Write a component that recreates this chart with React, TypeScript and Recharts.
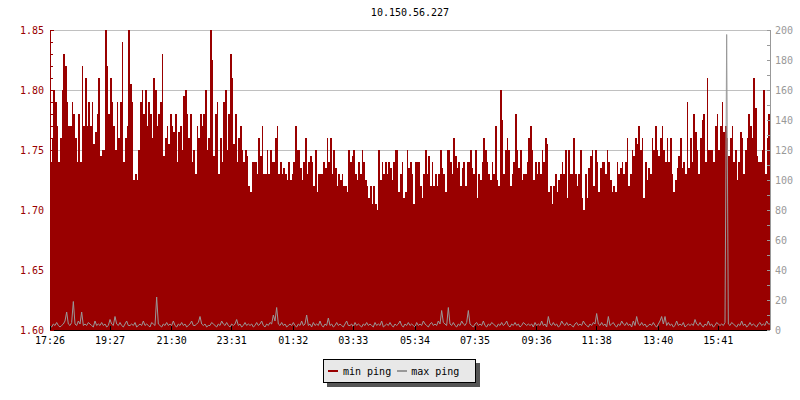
import React from 'react';
import { ComposedChart, Area, Line, XAxis, YAxis, CartesianGrid } from 'recharts';

// min ping (left axis, ms), one sample per ~1.67px
const MIN_PING = [
  // 17:26 - 19:30
  1.74, 1.76, 1.80, 1.79, 1.77, 1.74, 1.76, 1.80, 1.83, 1.82,
  1.79, 1.77, 1.77, 1.79, 1.78, 1.76, 1.74, 1.78, 1.74, 1.82,
  1.77, 1.81, 1.77, 1.79, 1.77, 1.79, 1.755, 1.765, 1.78, 1.81,
  1.745, 1.75, 1.75, 1.85, 1.82, 1.78, 1.81, 1.79, 1.77, 1.75,
  1.79, 1.76, 1.79, 1.84, 1.74, 1.76, 1.77, 1.85, 1.805, 1.79,
  1.725, 1.73, 1.725, 1.75, 1.79, 1.80, 1.78, 1.80, 1.77, 1.79,
  1.78, 1.76, 1.81, 1.80, 1.77, 1.78, 1.79, 1.83, 1.745,
  // 19:30 - 23:30
  1.76, 1.77, 1.755, 1.78, 1.77, 1.765, 1.78, 1.74, 1.765, 1.77,
  1.75, 1.795, 1.80, 1.78, 1.76, 1.78, 1.74, 1.75, 1.73, 1.77,
  1.76, 1.78, 1.77, 1.78, 1.80, 1.75, 1.76, 1.85, 1.825, 1.745,
  1.78, 1.79, 1.73, 1.76, 1.74, 1.79, 1.80, 1.75, 1.78, 1.83,
  1.81, 1.755, 1.78, 1.74, 1.76, 1.77, 1.75, 1.74, 1.75, 1.745,
  1.72, 1.715, 1.74, 1.74, 1.74, 1.73, 1.76, 1.745, 1.77, 1.73,
  1.73, 1.75, 1.73, 1.75, 1.74, 1.74, 1.76, 1.77, 1.73, 1.74,
  1.73, 1.735,
  // 23:30 - 03:30
  1.73, 1.725, 1.74, 1.725, 1.73, 1.74, 1.77, 1.75, 1.75, 1.735,
  1.725, 1.74, 1.76, 1.73, 1.74, 1.745, 1.74, 1.72, 1.75, 1.715,
  1.73, 1.73, 1.73, 1.74, 1.735, 1.76, 1.74, 1.76, 1.73, 1.75,
  1.735, 1.72, 1.73, 1.725, 1.73, 1.72, 1.72, 1.715, 1.75, 1.74,
  1.745, 1.75, 1.73, 1.725, 1.74, 1.73, 1.75, 1.74, 1.725, 1.72,
  1.71, 1.72, 1.705, 1.72, 1.705, 1.70, 1.75, 1.725, 1.74, 1.73,
  1.74, 1.73, 1.74, 1.735, 1.725, 1.74, 1.75, 1.75, 1.715, 1.73,
  1.74, 1.71,
  // 03:30 - 07:30
  1.715, 1.75, 1.735, 1.74, 1.73, 1.705, 1.74, 1.74, 1.74, 1.72,
  1.71, 1.73, 1.75, 1.73, 1.745, 1.72, 1.74, 1.72, 1.73, 1.72,
  1.73, 1.75, 1.735, 1.73, 1.715, 1.75, 1.75, 1.74, 1.73, 1.76,
  1.745, 1.735, 1.74, 1.72, 1.735, 1.74, 1.72, 1.74, 1.74, 1.75,
  1.735, 1.73, 1.75, 1.71, 1.73, 1.725, 1.74, 1.76, 1.75, 1.74,
  1.73, 1.725, 1.74, 1.73, 1.77, 1.725, 1.72, 1.80, 1.775, 1.73,
  1.75, 1.76, 1.75, 1.72, 1.73, 1.74, 1.78, 1.75, 1.735, 1.75,
  1.725, 1.73,
  // 07:30 - 11:30
  1.73, 1.74, 1.76, 1.77, 1.75, 1.725, 1.74, 1.73, 1.74, 1.73,
  1.75, 1.74, 1.76, 1.755, 1.715, 1.72, 1.705, 1.72, 1.73, 1.715,
  1.725, 1.73, 1.74, 1.73, 1.75, 1.71, 1.75, 1.73, 1.73, 1.76,
  1.73, 1.72, 1.73, 1.75, 1.71, 1.70, 1.73, 1.71, 1.735, 1.745,
  1.75, 1.72, 1.75, 1.74, 1.715, 1.735, 1.74, 1.74, 1.73, 1.75,
  1.74, 1.725, 1.715, 1.72, 1.715, 1.74, 1.73, 1.735, 1.74, 1.73,
  1.74, 1.76, 1.72, 1.73, 1.75, 1.745, 1.76, 1.755, 1.77, 1.75,
  1.76, 1.71,
  // 11:30 - 16:40
  1.74, 1.725, 1.735, 1.73, 1.76, 1.75, 1.77, 1.75, 1.745, 1.76,
  1.77, 1.75, 1.74, 1.76, 1.74, 1.76, 1.73, 1.715, 1.725, 1.735,
  1.745, 1.76, 1.735, 1.74, 1.73, 1.79, 1.735, 1.76, 1.74, 1.78,
  1.765, 1.75, 1.73, 1.76, 1.775, 1.78, 1.74, 1.81, 1.75, 1.75,
  1.75, 1.74, 1.77, 1.78, 1.75, 1.77, 1.79, 1.765, 1.77, 1.76,
  1.745, 1.76, 1.77, 1.74, 1.75, 1.725, 1.74, 1.765, 1.76, 1.73,
  1.75, 1.76, 1.78, 1.77, 1.76, 1.81, 1.785, 1.745, 1.74, 1.74,
  1.75, 1.80, 1.73, 1.76, 1.78,
];

// max ping (right axis, ms)
const MAX_PING = [
  3, 2, 4, 3, 5, 3, 2, 3, 4, 6, 12, 4, 3, 5, 19, 4, 3, 6, 4, 12, 3, 4, 3, 5,
  4, 3, 2, 6, 3, 4, 3, 5, 3, 4, 2, 3, 7, 4, 3, 9, 4, 3, 5, 3, 2, 4, 6, 3,
  3, 4, 3, 5, 2, 3, 4, 3, 6, 3, 4, 3, 2, 5, 4, 3, 22, 4, 3, 2, 4, 3, 5, 3,
  4, 3, 6, 3, 2, 4, 3, 5, 3, 4, 2, 3, 4, 6, 3, 3, 4, 5, 9, 4, 3, 4, 2, 3,
  3, 5, 4, 3, 2, 4, 3, 6, 4, 3, 5, 3, 2, 4, 3, 4, 7, 3, 4, 2, 3, 5, 3, 4,
  3, 4, 2, 3, 5, 3, 4, 6, 3, 2, 4, 3, 5, 4, 10, 6, 15, 4, 3, 5, 3, 4, 2, 3,
  4, 3, 5, 3, 2, 4, 3, 6, 3, 4, 10, 3, 4, 2, 5, 3, 4, 3, 6, 3, 2, 4, 3, 8,
  3, 4, 2, 3, 5, 3, 4, 3, 2, 4, 6, 3, 3, 4, 2, 5, 3, 4, 3, 2, 4, 3, 5, 3,
  4, 3, 2, 5, 3, 4, 3, 6, 2, 3, 4, 3, 5, 3, 2, 4, 3, 4, 6, 3, 2, 4, 3, 5,
  3, 4, 3, 2, 5, 3, 4, 3, 6, 4, 3, 2, 4, 5, 3, 4, 3, 6, 4, 13, 5, 4, 3, 15,
  4, 3, 5, 3, 2, 4, 3, 6, 4, 3, 5, 13, 4, 3, 2, 4, 5, 3, 4, 3, 6, 3, 2, 4,
  3, 5, 4, 3, 2, 4, 3, 5, 3, 4, 6, 3, 2, 4, 3, 5, 3, 4, 2, 3, 5, 4, 3, 4,
  3, 4, 2, 5, 3, 4, 3, 6, 3, 4, 2, 9, 4, 3, 5, 3, 4, 2, 3, 6, 4, 3, 5, 3,
  4, 3, 2, 4, 5, 3, 4, 3, 6, 4, 3, 2, 4, 3, 5, 4, 11, 4, 3, 5, 3, 4, 2, 9,
  3, 4, 5, 3, 2, 4, 3, 6, 4, 3, 5, 3, 4, 2, 6, 3, 9, 4, 3, 5, 3, 4, 2, 3,
  4, 3, 5, 3, 2, 4, 6, 9, 4, 9, 3, 5, 3, 4, 2, 3, 6, 3, 4, 3, 5, 2, 3, 4,
  3, 4, 3, 7, 4, 3, 5, 3, 2, 4, 3, 6, 3, 4, 2, 3, 5, 4, 3, 4, 3, 5, 197, 4,
  3, 5, 4, 3, 2, 4, 3, 6, 3, 4, 2, 3, 5, 3, 4, 3, 2, 4, 5, 3, 4, 3, 6, 4,
];

const TIME_LABELS = ['17:26', '19:27', '21:30', '23:31', '01:32', '03:33', '05:34', '07:35', '09:36', '11:38', '13:40', '15:41'];
// sample index where each time label sits
const LABEL_IDX = [0, 36, 73, 109, 146, 182, 219, 255, 292, 328, 365, 401];

const LEFT_TICKS = [
  1.60, 1.61, 1.62, 1.63, 1.64, 1.65, 1.66, 1.67, 1.68, 1.69, 1.70, 1.71, 1.72,
  1.73, 1.74, 1.75, 1.76, 1.77, 1.78, 1.79, 1.80, 1.81, 1.82, 1.83, 1.84, 1.85,
];
const RIGHT_TICKS = [0, 10, 20, 30, 40, 50, 60, 70, 80, 90, 100, 110, 120, 130, 140, 150, 160, 170, 180, 190, 200];
const GRID_VALUES = [1.65, 1.70, 1.75, 1.80, 1.85];

const RED = '#990000';
const GRAY = '#999999';
const FONT = '"DejaVu Sans Mono", monospace';

const PLOT_LEFT = 50;
const PLOT_RIGHT = 770;
const PLOT_BOTTOM = 330;

const N = MIN_PING.length;
const data = MIN_PING.map((v, i) => ({ i, min: v, max: MAX_PING[i] }));
// close the last step
data.push({ i: N, min: MIN_PING[N - 1], max: MAX_PING[N - 1] });

const LeftTick = (props: any) => {
  const { y, payload } = props;
  const v = payload.value;
  const major = Math.round(v * 100) % 5 === 0;
  return (
    <g>
      <line x1={PLOT_LEFT} x2={PLOT_LEFT + (major ? 4 : 3)} y1={y} y2={y} stroke={RED} shapeRendering="crispEdges" />
      {major && (
        <text x={PLOT_LEFT - 6} y={y} dy={4} textAnchor="end" fill={RED} fontSize={10} fontFamily={FONT}>
          {v.toFixed(2)}
        </text>
      )}
    </g>
  );
};

const RightTick = (props: any) => {
  const { y, payload } = props;
  const v = payload.value;
  const major = v % 20 === 0;
  return (
    <g>
      <line x1={PLOT_RIGHT - 3} x2={PLOT_RIGHT} y1={y} y2={y} stroke={GRAY} shapeRendering="crispEdges" />
      {major && (
        <text x={PLOT_RIGHT + 5} y={y} dy={4} textAnchor="start" fill={GRAY} fontSize={10} fontFamily={FONT}>
          {v}
        </text>
      )}
    </g>
  );
};

const TimeTick = (props: any) => {
  const { x, payload } = props;
  const k = LABEL_IDX.indexOf(payload.value);
  return (
    <g>
      <line x1={x} x2={x} y1={PLOT_BOTTOM} y2={PLOT_BOTTOM - 4} stroke="#000" shapeRendering="crispEdges" />
      <text x={x} y={PLOT_BOTTOM + 14} textAnchor="middle" fill="#000" fontSize={10} fontFamily={FONT}>
        {TIME_LABELS[k]}
      </text>
    </g>
  );
};

export default function App() {
  return (
    <div style={{ position: 'absolute', left: 0, top: 0, width: 800, height: 400, background: '#fff', fontFamily: FONT }}>
      <div
        style={{
          position: 'absolute', left: 310, top: 7, width: 200, textAlign: 'center',
          fontSize: 10, lineHeight: '12px', color: '#000',
        }}
      >
        10.150.56.227
      </div>

      <ComposedChart width={800} height={400} data={data} margin={{ top: 30, right: 0, bottom: 0, left: 0 }}>
        <CartesianGrid yAxisId="left" horizontalValues={GRID_VALUES} vertical={false} stroke="#c0c0c0" shapeRendering="crispEdges" />
        <XAxis
          dataKey="i"
          type="number"
          domain={[0, N]}
          ticks={LABEL_IDX}
          interval={0}
          height={70}
          tickLine={false}
          tick={<TimeTick />}
          axisLine={{ stroke: '#000', shapeRendering: 'crispEdges' }}
        />
        <YAxis
          yAxisId="left"
          domain={[1.6, 1.85]}
          ticks={LEFT_TICKS}
          interval={0}
          width={50}
          tickLine={false}
          tick={<LeftTick />}
          axisLine={{ stroke: RED, shapeRendering: 'crispEdges' }}
          allowDataOverflow
        />
        <YAxis
          yAxisId="right"
          orientation="right"
          domain={[0, 200]}
          ticks={RIGHT_TICKS}
          interval={0}
          width={30}
          tickLine={false}
          tick={<RightTick />}
          axisLine={{ stroke: GRAY, shapeRendering: 'crispEdges' }}
          allowDataOverflow
        />
        <Area
          yAxisId="left"
          dataKey="min"
          type="stepAfter"
          fill={RED}
          fillOpacity={1}
          stroke="none"
          shapeRendering="crispEdges"
          isAnimationActive={false}
        />
        <Line
          yAxisId="right"
          dataKey="max"
          type="linear"
          stroke={GRAY}
          strokeWidth={1}
          dot={false}
          activeDot={false}
          isAnimationActive={false}
        />
      </ComposedChart>

      <div
        style={{
          position: 'absolute', left: 323, top: 359, width: 151, height: 22,
          border: '1px solid #000', background: '#e8e8e8', boxShadow: '4px 4px 0 #555',
          display: 'flex', alignItems: 'center', fontSize: 10, color: '#000',
        }}
      >
        <span style={{ display: 'inline-block', width: 10, height: 2, background: RED, marginLeft: 4 }} />
        <span style={{ marginLeft: 5 }}>min ping</span>
        <span style={{ display: 'inline-block', width: 10, height: 2, background: GRAY, marginLeft: 6 }} />
        <span style={{ marginLeft: 4 }}>max ping</span>
      </div>
    </div>
  );
}
